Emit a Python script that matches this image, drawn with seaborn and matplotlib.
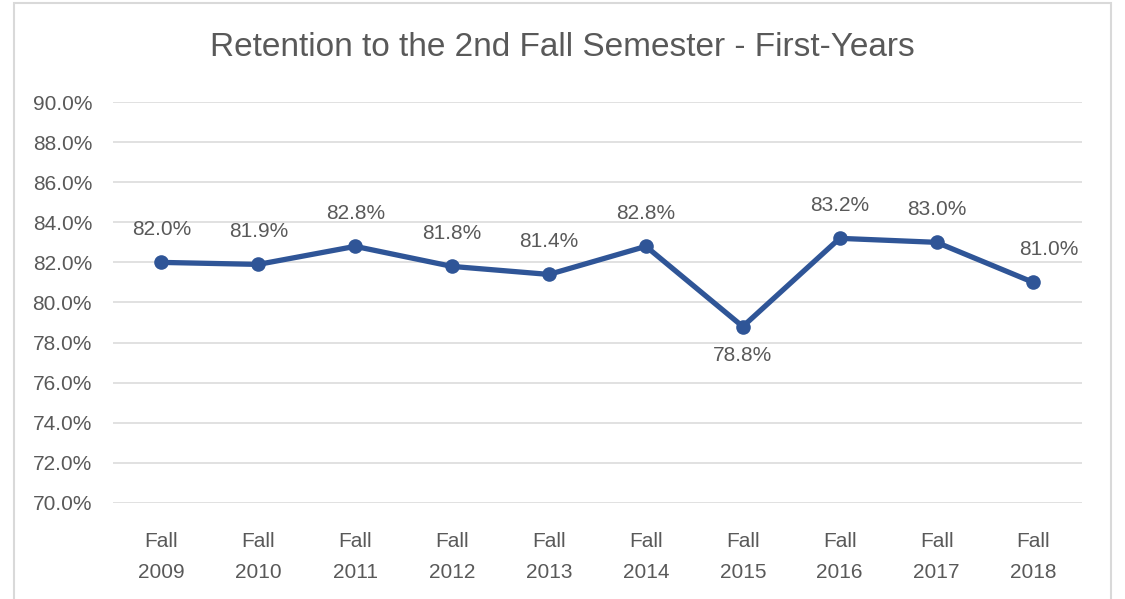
import seaborn as sns
from matplotlib import pyplot as plt
from matplotlib.patches import Rectangle
from matplotlib.ticker import FuncFormatter
import pandas as pd
import numpy as np

terms = ['Fall\n2009', 'Fall\n2010', 'Fall\n2011', 'Fall\n2012', 'Fall\n2013',
         'Fall\n2014', 'Fall\n2015', 'Fall\n2016', 'Fall\n2017', 'Fall\n2018']
retention = [82.0, 81.9, 82.8, 81.8, 81.4, 82.8, 78.8, 83.2, 83.0, 81.0]
yticks = [70, 72, 74, 76, 78, 80, 82, 84, 86, 88, 90]

df = pd.DataFrame({'term': terms, 'rate': retention})

sns.set_style('white')
plt.rcParams['font.family'] = ['Liberation Sans', 'DejaVu Sans']
txt = '#595959'
grid = '#d9d9d9'
blue = '#2f5597'

fig = plt.figure(figsize=(11.25, 5.99), dpi=100)
ax = fig.add_axes([0.1004, 0.1603, 0.8613, 0.6694])
#
sns.lineplot(data=df, x='term', y='rate', color=blue, linewidth=3.8,
             marker='o', markersize=10.5, markeredgewidth=0, ax=ax, zorder=3)

ax.set_ylim(70, 90)
ax.set_xlim(-0.5, len(terms) - 0.5)
ax.set_yticks(yticks)
ax.yaxis.set_major_formatter(FuncFormatter(lambda v, p: f'{v:.1f}%'))
ax.grid(axis='y', color=grid, linewidth=1.1)
ax.set_axisbelow(True)
for s in ax.spines.values():
    s.set_visible(False)
ax.tick_params(axis='y', length=0, pad=15, labelsize=15, labelcolor=txt)
ax.tick_params(axis='x', length=0, pad=21, labelsize=15, labelcolor=txt)
for lab in ax.get_xticklabels():
    lab.set_linespacing(1.8)
ax.set_xlabel('')
ax.set_ylabel('')

# data labels
for i, v in enumerate(retention):
    dx, dy = 0, 24
    if terms[i] == 'Fall\n2015':
        dy = -21
    if terms[i] == 'Fall\n2018':
        dx, dy = 11, 24
    ax.annotate(f'{v:.1f}%', (i, v), xytext=(dx, dy), textcoords='offset points',
                ha='center', va='center', fontsize=15, color=txt)

fig.text(0.5, 0.92, 'Retention to the 2nd Fall Semester - First-Years',
         ha='center', va='center', fontsize=24, color=txt)
fig.patches.append(Rectangle((14 / 1125, -0.02), 1097 / 1125, 1.02 - 3 / 599,
                             transform=fig.transFigure, fill=False,
                             edgecolor=grid, linewidth=1.5))

fig.savefig('out.png', dpi=100)
